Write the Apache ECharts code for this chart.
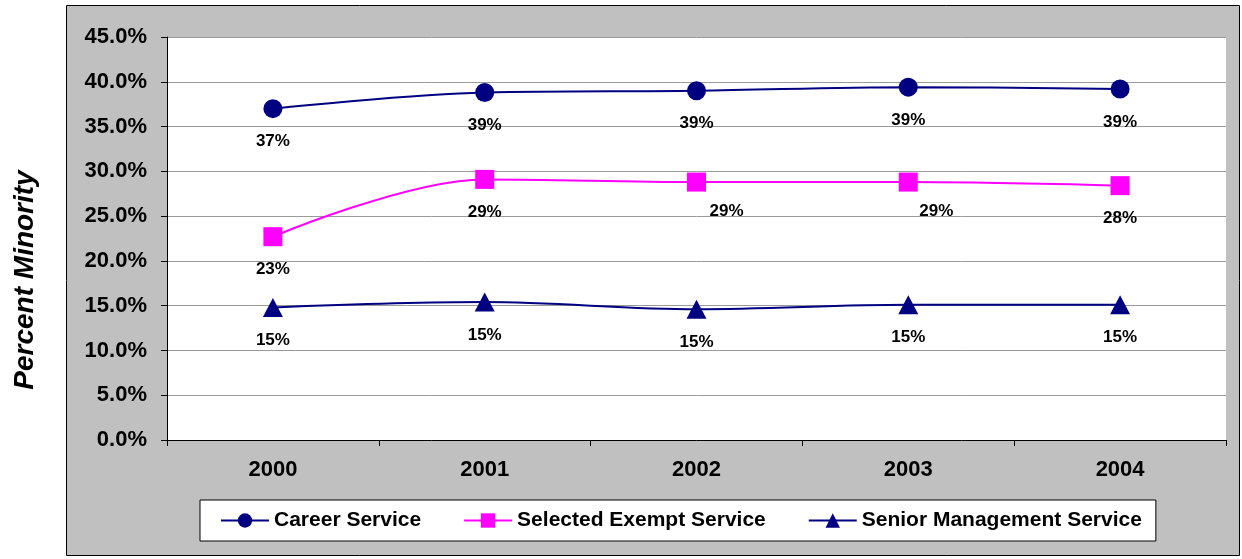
<!DOCTYPE html>
<html>
<head>
<meta charset="utf-8">
<script src="https://cdn.jsdelivr.net/npm/echarts@6/dist/echarts.min.js"></script>
<style>
  html, body { margin: 0; padding: 0; background: #fff; }
  #chart { width: 1242px; height: 559px; }
</style>
</head>
<body>
<div id="chart"></div>
<script>
// data
const years = ['2000', '2001', '2002', '2003', '2004'];
const careerService = [37.0, 38.8, 39.0, 39.4, 39.2];
const selectedExempt = [22.7, 29.1, 28.8, 28.8, 28.4];
const seniorManagement = [14.8, 15.4, 14.6, 15.1, 15.1];
const yTicks = [0, 45, 5]; // min, max, step

// label nudges (style only)
const selectedLabelShift = [0, 0, 30, 28, 0];

const chart = echarts.init(document.getElementById('chart'));
const FONT = '"Liberation Sans", Arial, sans-serif';

function pct(p) { return Math.round(p.value) + '%'; }

function makeSeries(name, values, color, symbol, shifts) {
  return {
    name: name,
    type: 'line',
    smooth: 0.35,
    data: values.map((v, i) => {
      const item = { value: v };
      if (shifts && shifts[i]) item.label = { offset: [shifts[i], -4] };
      return item;
    }),
    symbol: symbol,
    symbolSize: symbol === 'triangle' ? [20, 19] : 19,
    lineStyle: { color: color, width: 2 },
    itemStyle: { color: color },
    label: {
      show: true,
      position: 'bottom',
      distance: 15,
      formatter: pct,
      color: '#000',
      fontFamily: FONT,
      fontWeight: 'bold',
      fontSize: 17
    },
    emphasis: { disabled: true }
  };
}

const option = {
  animation: false,
  backgroundColor: '#fff',
  graphic: [
    {
      type: 'rect',
      z: -100,
      shape: { x: 66.5, y: 5.5, width: 1173, height: 550 },
      style: { fill: '#c0c0c0', stroke: '#000', lineWidth: 1 }
    },
    {
      type: 'text',
      z: 100,
      x: 25,
      y: 280,
      rotation: Math.PI / 2,
      style: {
        text: 'Percent Minority',
        fontFamily: FONT,
        fontStyle: 'italic',
        fontWeight: 'bold',
        fontSize: 28,
        fill: '#000',
        align: 'center',
        verticalAlign: 'middle'
      }
    }
  ],
  grid: {
    left: 167,
    top: 37,
    width: 1059,
    height: 403,
    show: true,
    backgroundColor: '#fff',
    borderWidth: 0
  },
  legend: {
    left: 200,
    top: 500,
    width: 972,
    padding: [10, 14, 10, 20],
    backgroundColor: '#fff',
    borderColor: '#000',
    borderWidth: 1,
    itemWidth: 48,
    itemHeight: 18,
    itemGap: 42,
    textStyle: {
      fontFamily: FONT,
      fontWeight: 'bold',
      fontSize: 21,
      color: '#000',
      padding: [2, 0, 0, 0]
    }
  },
  xAxis: {
    type: 'category',
    data: years,
    boundaryGap: true,
    axisLine: { lineStyle: { color: '#000', width: 1 } },
    axisTick: { show: true, interval: 0, length: 6, lineStyle: { color: '#000' } },
    axisLabel: {
      margin: 19,
      color: '#000',
      fontFamily: FONT,
      fontWeight: 'bold',
      fontSize: 22
    },
    splitLine: { show: false }
  },
  yAxis: {
    type: 'value',
    min: yTicks[0],
    max: yTicks[1],
    interval: yTicks[2],
    axisLine: { show: true, lineStyle: { color: '#000', width: 1 } },
    axisTick: { show: true, length: 6, lineStyle: { color: '#000' } },
    axisLabel: {
      margin: 20,
      color: '#000',
      fontFamily: FONT,
      fontWeight: 'bold',
      fontSize: 22,
      formatter: v => v.toFixed(1) + '%'
    },
    splitLine: { show: true, lineStyle: { color: '#9a9a9a', width: 1 } }
  },
  series: [
    makeSeries('Career Service', careerService, '#000080', 'circle'),
    makeSeries('Selected Exempt Service', selectedExempt, '#ff00ff', 'rect', selectedLabelShift),
    makeSeries('Senior Management Service', seniorManagement, '#000080', 'triangle')
  ]
};

chart.setOption(option);
</script>
</body>
</html>
